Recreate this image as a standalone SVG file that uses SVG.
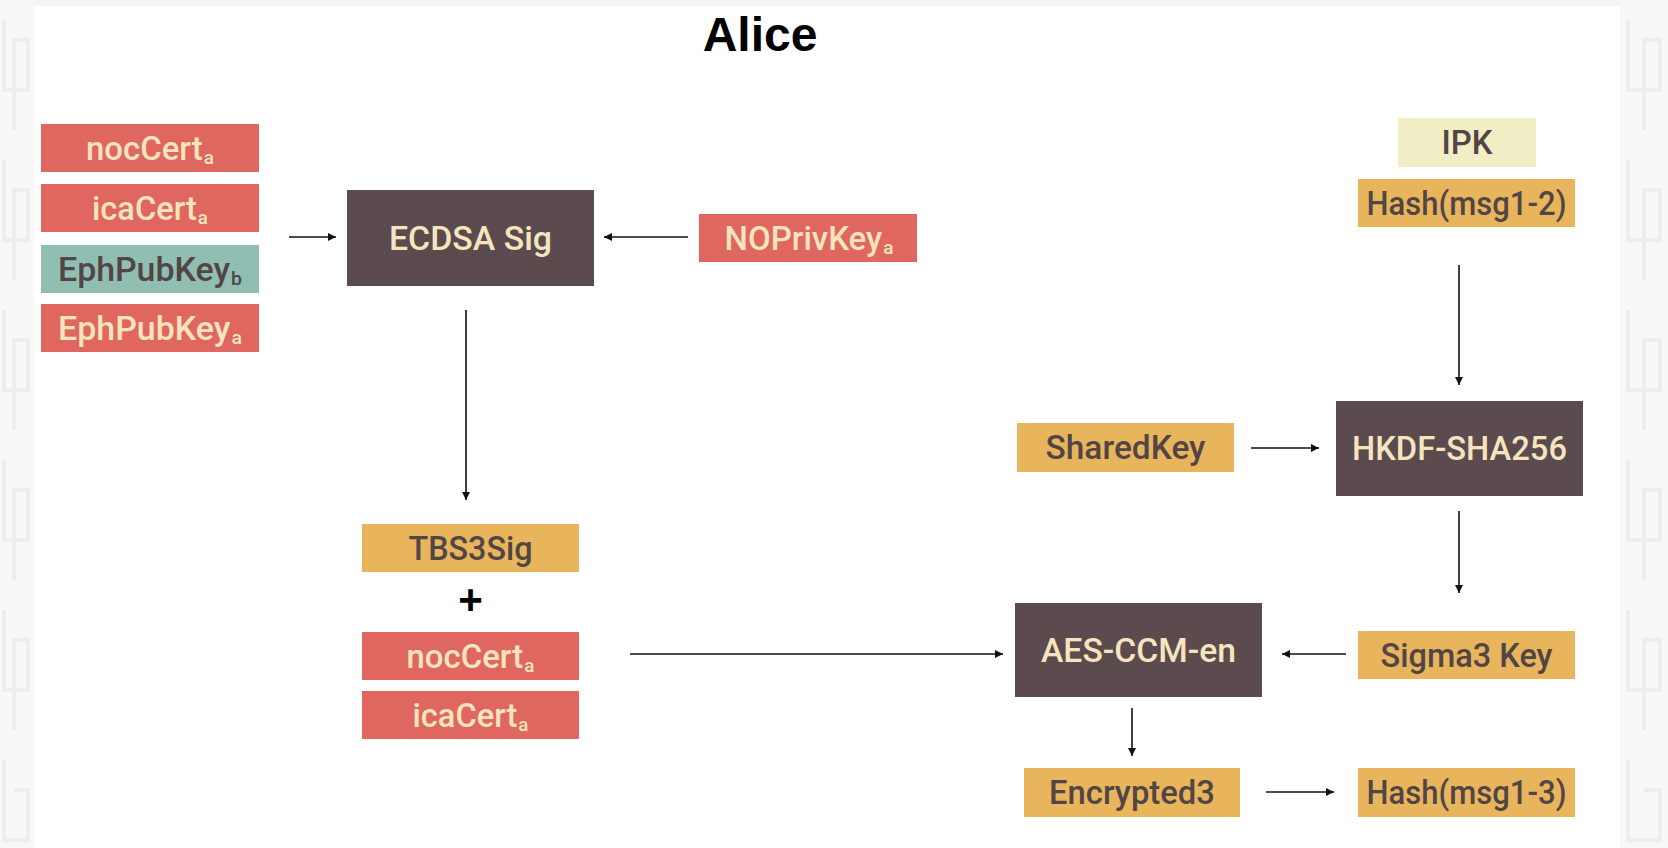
<svg xmlns="http://www.w3.org/2000/svg" width="1668" height="848" viewBox="0 0 1668 848">
<style>
.lbl{font-family:Roboto,"Liberation Sans",Arial,sans-serif;font-weight:500;font-size:33px;text-anchor:middle}
.sub{font-size:19px}
.red{fill:#E0675F}
.teal{fill:#91BEB3}
.org{fill:#E9B55C}
.dark{fill:#5B4B4F}
.ipk{fill:#F1EDC4}
.tc{fill:#F6E4BE}
.td{fill:#514545}
.conn{stroke:#111;stroke-width:1.6;fill:none}
.pat{stroke:#ededed;stroke-width:4;fill:none}
</style>
<defs>
<marker id="ah" viewBox="0 0 10 10" refX="10" refY="5" markerWidth="9" markerHeight="8" markerUnits="userSpaceOnUse" orient="auto">
<path d="M0,0 L10,5 L0,10 z" fill="#111"/>
</marker>
</defs>
<rect x="0" y="0" width="1668" height="848" fill="#ffffff"/>
<g id="background">
<rect x="0" y="0" width="34" height="848" fill="#f8f8f8"/>
<rect x="1620" y="0" width="48" height="848" fill="#f8f8f8"/>
<path class="pat" d="M4,20 V90 H28 V40 H14 V130 M4,160 V240 H28 V190 H14 V280 M4,310 V390 H28 V340 H14 V430 M4,460 V540 H28 V490 H14 V580 M4,610 V690 H28 V640 H14 V730 M4,760 V840 H28 V790 H14"/>
<path class="pat" d="M1628,20 V90 H1660 V40 H1644 V130 M1628,160 V240 H1660 V190 H1644 V280 M1628,310 V390 H1660 V340 H1644 V430 M1628,460 V540 H1660 V490 H1644 V580 M1628,610 V690 H1660 V640 H1644 V730 M1628,760 V840 H1660 V790 H1644"/>
<rect x="34" y="0" width="1586" height="6" fill="#f4f4f4"/>
</g>
<text id="title" x="760" y="51" font-family="Liberation Sans,Arial,sans-serif" font-weight="bold" font-size="48" text-anchor="middle" fill="#000">Alice</text>
<g id="connectors">
<line class="conn" x1="289" y1="237" x2="336" y2="237" marker-end="url(#ah)"/>
<line class="conn" x1="688" y1="237" x2="604" y2="237" marker-end="url(#ah)"/>
<line class="conn" x1="466" y1="310" x2="466" y2="500" marker-end="url(#ah)"/>
<line class="conn" x1="630" y1="654" x2="1003" y2="654" marker-end="url(#ah)"/>
<line class="conn" x1="1346" y1="654" x2="1282" y2="654" marker-end="url(#ah)"/>
<line class="conn" x1="1459" y1="265" x2="1459" y2="385" marker-end="url(#ah)"/>
<line class="conn" x1="1251" y1="448" x2="1319" y2="448" marker-end="url(#ah)"/>
<line class="conn" x1="1459" y1="511" x2="1459" y2="593" marker-end="url(#ah)"/>
<line class="conn" x1="1132" y1="708" x2="1132" y2="756" marker-end="url(#ah)"/>
<line class="conn" x1="1266" y1="792" x2="1334" y2="792" marker-end="url(#ah)"/>
</g>
<g id="nocCertA">
<rect class="red" x="41" y="124" width="218" height="48"/>
<text class="lbl tc" x="150" y="160" textLength="128" lengthAdjust="spacingAndGlyphs">nocCert<tspan class="sub" dx="1" dy="4">a</tspan></text>
</g>
<g id="icaCertA">
<rect class="red" x="41" y="184" width="218" height="48"/>
<text class="lbl tc" x="150" y="220" textLength="116" lengthAdjust="spacingAndGlyphs">icaCert<tspan class="sub" dx="1" dy="4">a</tspan></text>
</g>
<g id="EphPubKeyB">
<rect class="teal" x="41" y="245" width="218" height="48"/>
<text class="lbl td" x="150" y="281" textLength="184" lengthAdjust="spacingAndGlyphs">EphPubKey<tspan class="sub" dx="1" dy="4">b</tspan></text>
</g>
<g id="EphPubKeyA">
<rect class="red" x="41" y="304" width="218" height="48"/>
<text class="lbl tc" x="150" y="340" textLength="184" lengthAdjust="spacingAndGlyphs">EphPubKey<tspan class="sub" dx="1" dy="4">a</tspan></text>
</g>
<g id="ECDSASig">
<rect class="dark" x="347" y="190" width="247" height="96"/>
<text class="lbl tc" x="470.5" y="250" textLength="163" lengthAdjust="spacingAndGlyphs">ECDSA Sig</text>
</g>
<g id="NOPrivKeyA">
<rect class="red" x="699" y="214" width="218" height="48"/>
<text class="lbl tc" x="809" y="250" textLength="169" lengthAdjust="spacingAndGlyphs">NOPrivKey<tspan class="sub" dx="1" dy="4">a</tspan></text>
</g>
<g id="TBS3Sig">
<rect class="org" x="362" y="524" width="217" height="48"/>
<text class="lbl td" x="470.5" y="560" textLength="124" lengthAdjust="spacingAndGlyphs">TBS3Sig</text>
</g>
<text id="plus" x="470.5" y="614" font-family="Liberation Sans,Arial,sans-serif" font-weight="bold" font-size="42" text-anchor="middle" fill="#000">+</text>
<g id="nocCertA2">
<rect class="red" x="362" y="632" width="217" height="48"/>
<text class="lbl tc" x="470.5" y="668" textLength="128" lengthAdjust="spacingAndGlyphs">nocCert<tspan class="sub" dx="1" dy="4">a</tspan></text>
</g>
<g id="icaCertA2">
<rect class="red" x="362" y="691" width="217" height="48"/>
<text class="lbl tc" x="470.5" y="727" textLength="116" lengthAdjust="spacingAndGlyphs">icaCert<tspan class="sub" dx="1" dy="4">a</tspan></text>
</g>
<g id="IPK">
<rect class="ipk" x="1398" y="118" width="138" height="49"/>
<text class="lbl td" x="1467" y="154" textLength="51" lengthAdjust="spacingAndGlyphs">IPK</text>
</g>
<g id="HashMsg12">
<rect class="org" x="1358" y="179" width="217" height="48"/>
<text class="lbl td" x="1466.5" y="215" textLength="200" lengthAdjust="spacingAndGlyphs">Hash(msg1-2)</text>
</g>
<g id="SharedKey">
<rect class="org" x="1017" y="423" width="217" height="49"/>
<text class="lbl td" x="1125.5" y="459" textLength="160" lengthAdjust="spacingAndGlyphs">SharedKey</text>
</g>
<g id="HKDF">
<rect class="dark" x="1336" y="401" width="247" height="95"/>
<text class="lbl tc" x="1459.5" y="460" textLength="215" lengthAdjust="spacingAndGlyphs">HKDF-SHA256</text>
</g>
<g id="AESCCM">
<rect class="dark" x="1015" y="603" width="247" height="94"/>
<text class="lbl tc" x="1138.5" y="662" textLength="195" lengthAdjust="spacingAndGlyphs">AES-CCM-en</text>
</g>
<g id="Sigma3Key">
<rect class="org" x="1358" y="631" width="217" height="48"/>
<text class="lbl td" x="1466.5" y="667" textLength="172" lengthAdjust="spacingAndGlyphs">Sigma3 Key</text>
</g>
<g id="Encrypted3">
<rect class="org" x="1024" y="768" width="216" height="49"/>
<text class="lbl td" x="1132" y="804" textLength="166" lengthAdjust="spacingAndGlyphs">Encrypted3</text>
</g>
<g id="HashMsg13">
<rect class="org" x="1358" y="768" width="217" height="49"/>
<text class="lbl td" x="1466.5" y="804" textLength="200" lengthAdjust="spacingAndGlyphs">Hash(msg1-3)</text>
</g>
</svg>
